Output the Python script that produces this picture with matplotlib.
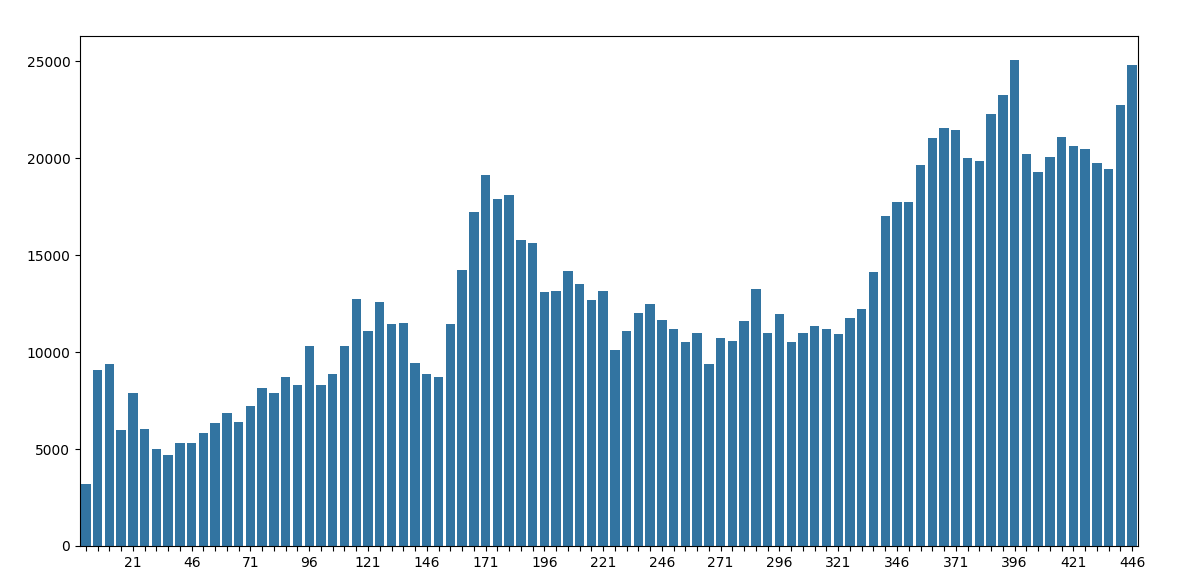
import matplotlib
matplotlib.use("Agg")
import matplotlib.pyplot as plt
import numpy as np

# Category labels (every 5th day: 1, 6, 11, ..., 446)
categories = [str(1 + 5 * i) for i in range(90)]

values = [
    3210, 9090, 9390, 6000, 7900, 6040, 5010, 4710, 5330, 5330,
    5840, 6360, 6870, 6410, 7230, 8150, 7900, 8720, 8310, 10320,
    8310, 8880, 10320, 12750, 11100, 12590, 11460, 11510, 9450, 8880,
    8720, 11460, 14240, 17250, 19150, 17900, 18120, 15790, 15650, 13110,
    13160, 14190, 13520, 12700, 13160, 10120, 11100, 12020, 12490, 11670,
    11210, 10530, 10990, 9400, 10750, 10590, 11620, 13270, 10990, 11970,
    10530, 10990, 11370, 11210, 10940, 11780, 12240, 14140, 17030, 17760,
    17760, 19660, 21050, 21560, 21470, 20020, 19870, 22290, 23270, 25060,
    20230, 19310, 20070, 21100, 20640, 20480, 19770, 19450, 22750, 24810,
]

bar_color = "#3274a1"

fig = plt.figure(figsize=(11.92, 5.86), dpi=100)
ax = fig.add_axes([0.0671, 0.0683, 0.8876, 0.8703])

x = np.arange(len(categories))
ax.bar(x, values, width=0.8, color=bar_color)
ax.set_xlim(-0.5, len(categories) - 0.5)

ax.set_xticks(x)
ax.set_xticklabels([c if (i + 1) % 5 == 0 else "" for i, c in enumerate(categories)])

fig.savefig("out.png", dpi=100)
